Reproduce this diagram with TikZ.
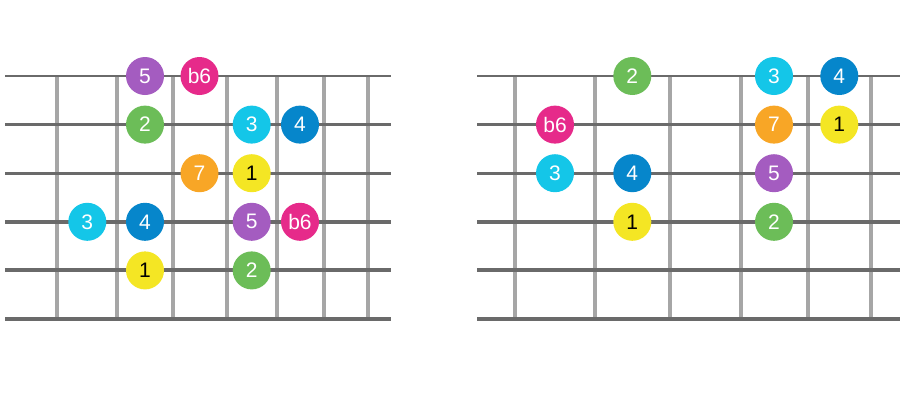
\documentclass[tikz,border=0pt]{standalone}
\usepackage{fontspec}
\setmainfont{Liberation Sans}
\definecolor{strc}{HTML}{6A6A6A}
\definecolor{fretc}{HTML}{A6A6A6}
\definecolor{cpurple}{HTML}{A45CC0}
\definecolor{cmagenta}{HTML}{E62A8A}
\definecolor{cgreen}{HTML}{6CBD58}
\definecolor{ccyan}{HTML}{14C6E8}
\definecolor{cblue}{HTML}{0686CB}
\definecolor{corange}{HTML}{F8A626}
\definecolor{cyellow}{HTML}{F4E624}
\begin{document}
\begin{tikzpicture}[x=1pt,y=-1pt,
  note/.style={circle,minimum size=38pt,inner sep=0pt,font=\fontsize{21}{21}\selectfont,text=white},
  fretline/.style={fretc,line width=3.8pt},
  strline/.style={strc}]
\useasboundingbox[fill=white] (0,0) rectangle (900,400);
% left fretboard
\foreach \x in {57.3,116.7,173.3,226.7,276.7,324,368.3}
  \draw[fretline] (\x,75) -- (\x,318);
\foreach \y/\w in {76/2.4,124.6/2.8,173.2/3.2,221.8/3.6,270.4/4.0,319/4.8}
  \draw[strline,line width=\w pt] (5,\y) -- (391,\y);
% right fretboard
\foreach \x in {515,595,670,741,808.3,871}
  \draw[fretline] (\x,75) -- (\x,318);
\foreach \y/\w in {76/2.4,124.6/2.8,173.2/3.2,221.8/3.6,270.4/4.0,319/4.8}
  \draw[strline,line width=\w pt] (477,\y) -- (900,\y);
% left notes
\node[note,fill=cpurple]  (a1) at (145,76) {5};
\node[note,fill=cmagenta] (a2) at (199.5,76) {b6};
\node[note,fill=cgreen]   (a3) at (145,124.6) {2};
\node[note,fill=ccyan]    (a4) at (251.7,124.6) {3};
\node[note,fill=cblue]    (a5) at (300,124.6) {4};
\node[note,fill=corange]  (a6) at (199.5,173.2) {7};
\node[note,fill=cyellow,text=black] (a7) at (251.7,173.2) {1};
\node[note,fill=ccyan]    (a8) at (87.3,221.8) {3};
\node[note,fill=cblue]    (a9) at (145,221.8) {4};
\node[note,fill=cpurple]  (a10) at (251.7,221.8) {5};
\node[note,fill=cmagenta] (a11) at (300,221.8) {b6};
\node[note,fill=cyellow,text=black] (a12) at (145,270.4) {1};
\node[note,fill=cgreen]   (a13) at (251.7,270.4) {2};
% right notes
\node[note,fill=cgreen]   (b1) at (632.3,76) {2};
\node[note,fill=ccyan]    (b2) at (774,76) {3};
\node[note,fill=cblue]    (b3) at (839.3,76) {4};
\node[note,fill=cmagenta] (b4) at (555,124.6) {b6};
\node[note,fill=corange]  (b5) at (774,124.6) {7};
\node[note,fill=cyellow,text=black] (b6) at (839.3,124.6) {1};
\node[note,fill=ccyan]    (b7) at (555,173.2) {3};
\node[note,fill=cblue]    (b8) at (632.3,173.2) {4};
\node[note,fill=cpurple]  (b9) at (774,173.2) {5};
\node[note,fill=cyellow,text=black] (b10) at (632.3,221.8) {1};
\node[note,fill=cgreen]   (b11) at (774,221.8) {2};
\end{tikzpicture}
\end{document}
